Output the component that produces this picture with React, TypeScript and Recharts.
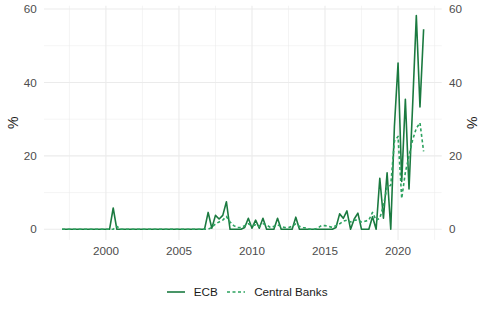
import React from 'react';
import { LineChart, Line, XAxis, YAxis, CartesianGrid, Legend, Label } from 'recharts';

const FONT = '"Liberation Sans", Arial, Helvetica, sans-serif';

// Quarterly categories 1997 Q1 .. 2021 Q4
const firstYear = 1997;
const quarters: string[] = Array.from({ length: 100 }, (_, i) => `${firstYear + Math.floor(i / 4)} Q${(i % 4) + 1}`);

const ecb = [
  0, 0, 0, 0, 0, 0, 0, 0, 0, 0, 0, 0, 0, 0, 5.8, 0, 0, 0, 0, 0,
  0, 0, 0, 0, 0, 0, 0, 0, 0, 0, 0, 0, 0, 0, 0, 0, 0, 0, 0, 0,
  4.6, 0.3, 3.8, 2.8, 3.8, 7.5, 0, 0, 0, 0, 0.5, 3.0, 0.3, 2.5, 0.3, 3.0, 0, 0, 0, 3.0,
  0, 0, 0, 0, 3.3, 0, 0, 0, 0, 0, 0, 0, 0, 0, 0, 0.5, 4.2, 3.0, 5.0, 0,
  2.8, 4.4, 0, 0, 0, 3.4, 0, 13.9, 3.0, 15.4, 0, 28.0, 45.3, 13.0, 35.4, 11.0, 34.0, 58.2, 33.3, 54.5,
];

const centralBanks = [
  0, 0, 0, 0, 0, 0, 0, 0, 0, 0, 0, 0, 0, 0, 0, 0.8, 0, 0, 0, 0,
  0, 0, 0, 0, 0, 0, 0, 0, 0, 0, 0, 0, 0, 0, 0, 0, 0, 0, 0, 0,
  0, 0.5, 1.5, 2.0, 2.5, 3.5, 2.0, 1.0, 0.5, 0.5, 1.0, 1.5, 1.0, 1.2, 0.8, 1.5, 1.2, 0.5, 0.8, 1.2,
  0.8, 0.5, 0.5, 0.8, 1.5, 0.8, 0.5, 0.3, 0, 0, 0.3, 1.0, 1.0, 0.8, 0.5, 1.0, 1.5, 2.2, 2.5, 2.0,
  2.5, 2.5, 2.0, 2.2, 2.5, 4.6, 2.5, 3.0, 6.5, 11.5, 12.0, 24.0, 25.3, 8.4, 15.5, 20.0, 24.4, 27.5, 29.0, 21.2,
];

const seriesNames = ['ECB', 'Central Banks'];
const xMajor = [2000, 2005, 2010, 2015, 2020];
const xMinor = [1997.5, 2002.5, 2007.5, 2012.5, 2017.5, 2022.5];
const yMajor = [0, 20, 40, 60];
const yMinor = [10, 30, 50];

const ECB_COLOR = '#1b7a40';
const CB_COLOR = '#2ca25f';

const data = quarters.map((q, i) => {
  const [yr, qq] = q.split(' Q');
  return { t: Number(yr) + (Number(qq) - 1) / 4, quarter: q, ECB: ecb[i], CB: centralBanks[i] };
});

const tickStyle = { fill: '#4d4d4d', fontSize: 11.7, fontFamily: FONT };

const renderLegend = (props: any) => {
  const payload = [...(props.payload || [])].filter((e: any) => seriesNames.includes(e.value))
    .sort((a: any, b: any) => seriesNames.indexOf(a.value) - seriesNames.indexOf(b.value));
  return (
    <div style={{ display: 'flex', alignItems: 'center', height: 20, paddingLeft: 166.7, fontFamily: FONT, fontSize: 11.7, color: '#1a1a1a' }}>
      {payload.map((entry: any, idx: number) => (
        <div key={idx} style={{ display: 'flex', alignItems: 'center', marginRight: 9.4 }}>
          <svg width={18} height={10} style={{ display: 'block' }}>
            <line x1={0} x2={18} y1={5} y2={5} stroke={entry.color} strokeWidth={1.6}
              strokeDasharray={entry.payload && entry.payload.strokeDasharray ? entry.payload.strokeDasharray : undefined} />
          </svg>
          <span style={{ marginLeft: 9, lineHeight: '20px' }}>{entry.value}</span>
        </div>
      ))}
    </div>
  );
};

export default function App() {
  return (
    <div style={{ position: 'absolute', left: 0, top: 0, width: 486, height: 317, background: '#ffffff' }}>
      <LineChart width={486} height={317} data={data} margin={{ top: 5.7, right: 0, bottom: 47.05, left: 0 }}>
        <CartesianGrid yAxisId="left" stroke="#ebebeb" strokeWidth={0.55} horizontalValues={yMinor} verticalValues={xMinor} />
        <CartesianGrid yAxisId="left" stroke="#ebebeb" strokeWidth={1.1} horizontalValues={yMajor} verticalValues={xMajor} />
        <XAxis dataKey="t" type="number" domain={[1995.7625, 2022.9875]} ticks={xMajor} axisLine={false} tickLine={false}
          tickSize={0} tickMargin={6.75} height={30} tick={tickStyle} interval={0} />
        <YAxis yAxisId="left" orientation="left" domain={[-2.9, 60.9]} ticks={yMajor} axisLine={false} tickLine={false}
          tickSize={0} tickMargin={7.3} width={44} tick={tickStyle} interval={0}>
          <Label value="%" position="center" angle={-90} dx={-9} style={{ fill: '#1a1a1a', fontSize: 14, fontFamily: FONT }} />
        </YAxis>
        <YAxis yAxisId="right" orientation="right" domain={[-2.9, 60.9]} ticks={yMajor} axisLine={false} tickLine={false}
          tickSize={0} tickMargin={7.3} width={44.3} tick={tickStyle} interval={0}>
          <Label value="%" position="center" angle={90} dx={8} style={{ fill: '#1a1a1a', fontSize: 14, fontFamily: FONT }} />
        </YAxis>
        <Legend verticalAlign="middle" align="center" layout="horizontal"
          wrapperStyle={{ top: 282, left: 0, width: 486, height: 20 }} content={renderLegend} />
        <Line yAxisId="right" name="ECB (right axis)" dataKey="ECB" type="linear" stroke="none" strokeWidth={0}
          dot={false} activeDot={false} isAnimationActive={false} legendType="none" />
        <Line yAxisId="left" name="ECB" dataKey="ECB" type="linear" stroke={ECB_COLOR} strokeWidth={1.6}
          dot={false} activeDot={false} isAnimationActive={false} strokeLinejoin="round" />
        <Line yAxisId="left" name="Central Banks" dataKey="CB" type="linear" stroke={CB_COLOR} strokeWidth={1.6}
          strokeDasharray="3 2.5" dot={false} activeDot={false} isAnimationActive={false} strokeLinejoin="round" />
      </LineChart>
    </div>
  );
}
